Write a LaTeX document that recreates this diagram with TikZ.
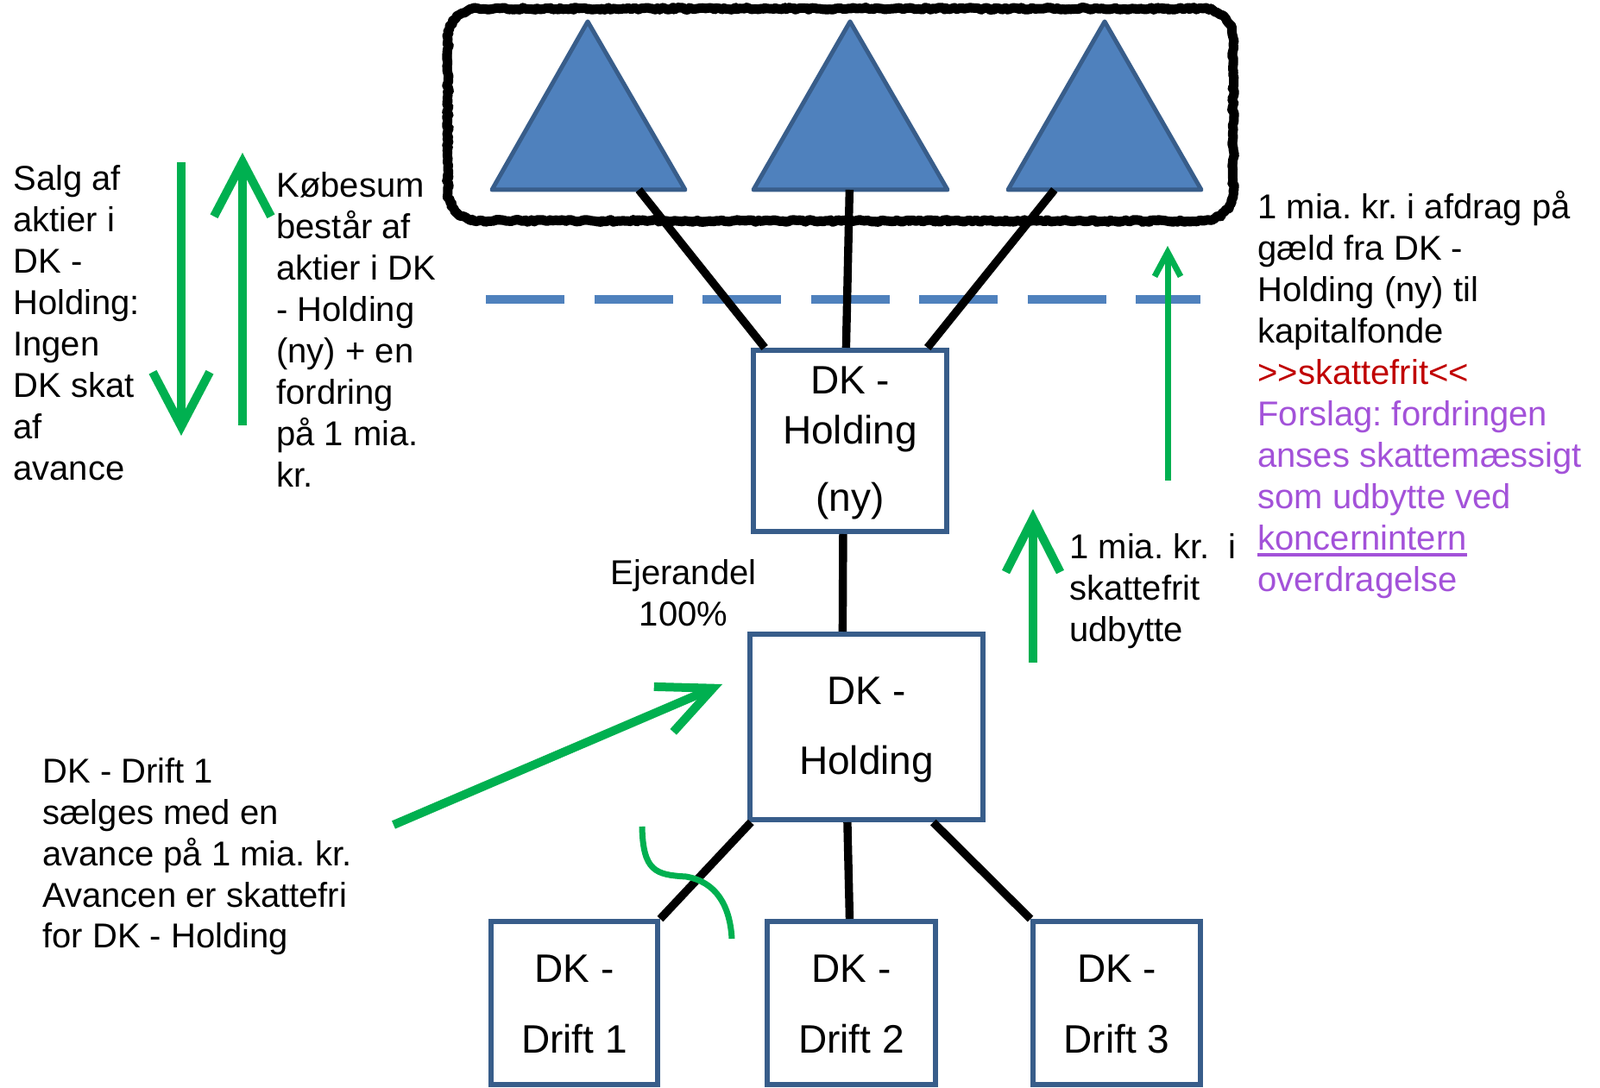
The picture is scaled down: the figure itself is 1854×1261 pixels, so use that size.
\documentclass[tikz,border=0pt]{standalone}
\usepackage{fontspec}
\setmainfont{Liberation Sans}
\usetikzlibrary{arrows.meta,decorations.pathmorphing,calc}
\definecolor{tfill}{HTML}{4F81BD}
\definecolor{tdraw}{HTML}{385D8A}
\definecolor{grn}{HTML}{00B050}
\definecolor{rd}{HTML}{C00000}
\definecolor{pur}{HTML}{A352D9}
\newcommand{\tl}[2]{\begin{tabular}[t]{@{}#1@{}}#2\end{tabular}}
\newlength{\ulw}
\newcommand{\myul}[1]{\settowidth{\ulw}{#1}\rlap{\rule[-3.5pt]{\ulw}{2pt}}#1}
\frenchspacing
\begin{document}
\begin{tikzpicture}[x=0.5pt,y=-0.5pt,
  txt/.style={font=\fontsize{20}{24}\selectfont,inner sep=0pt,anchor=base west},
  btxt/.style={font=\fontsize{23}{29}\selectfont,inner sep=0pt,anchor=base},
  box/.style={rectangle,draw=tdraw,line width=3pt,fill=white,inner sep=0pt},
  link/.style={line width=4.7pt,draw=black},
  tri/.style={fill=tfill,draw=tdraw,line width=2.5pt,line join=round},
  garrow/.style={draw=grn,line width=5pt,-{Straight Barb[length=31.5pt,width=33pt]}},
  gcurve/.style={draw=grn,line width=3.5pt},
  dashline/.style={draw=tfill,line width=5pt,dash pattern=on 45.5pt off 17.25pt}]
\useasboundingbox (0,0) rectangle (1854,1261);

% rough rounded frame
\draw[line width=4.5pt] (519,45) arc[start angle=180,end angle=270,radius=35] -- (1394,10)
  arc[start angle=270,end angle=360,radius=35] -- (1429,221)
  arc[start angle=0,end angle=90,radius=35] -- (554,256)
  arc[start angle=90,end angle=180,radius=35] -- cycle;
\draw[line width=5.5pt,line join=round,decorate,decoration={random steps,segment length=1.5pt,amplitude=0.7pt}]
  (519,45) arc[start angle=180,end angle=270,radius=35] -- (1394,10)
  arc[start angle=270,end angle=360,radius=35] -- (1429,221)
  arc[start angle=0,end angle=90,radius=35] -- (554,256)
  arc[start angle=90,end angle=180,radius=35] -- cycle;

% triangles
\coordinate (t1A) at (681,25);  \coordinate (t1L) at (570,220);  \coordinate (t1R) at (794,220);
\coordinate (t2A) at (985,25);  \coordinate (t2L) at (873,220);  \coordinate (t2R) at (1098,220);
\coordinate (t3A) at (1280,25); \coordinate (t3L) at (1168,220); \coordinate (t3R) at (1392,220);
\draw[tri] (t1A) -- (t1L) -- (t1R) -- cycle;
\draw[tri] (t2A) -- (t2L) -- (t2R) -- cycle;
\draw[tri] (t3A) -- (t3L) -- (t3R) -- cycle;

% dashed line
\coordinate (dl) at (563,347);
\coordinate (dr) at (1391,347);
\draw[dashline] (dl) -- (dr);

% boxes
\node[box,minimum width=112pt,minimum height=105pt] (hny) at (985,511) {};
\node[box,minimum width=135pt,minimum height=107.5pt] (hold) at (1004,842.5) {};
\node[box,minimum width=96.5pt,minimum height=94.5pt] (d1) at (665.5,1162.5) {};
\node[box,minimum width=97.5pt,minimum height=94.5pt] (d2) at (986.5,1162.5) {};
\node[box,minimum width=97pt,minimum height=94.5pt] (d3) at (1294,1162.5) {};

% links
\draw[link] ($(t1L)!0.76!(t1R)$) -- ($(hny.north west)!0.07!(hny.north east)$);
\draw[link] ($(t2L)!0.495!(t2R)$) -- ($(hny.north west)!0.48!(hny.north east)$);
\draw[link] ($(t3L)!0.24!(t3R)$) -- ($(hny.north west)!0.89!(hny.north east)$);
\draw[link] ($(hny.south west)!0.465!(hny.south east)$) -- ($(hold.north west)!0.4!(hold.north east)$);
\draw[link] ($(hold.south west)!0.015!(hold.south east)$) -- (d1.north east);
\draw[link] ($(hold.south west)!0.42!(hold.south east)$) -- ($(d2.north west)!0.49!(d2.north east)$);
\draw[link] ($(hold.south west)!0.78!(hold.south east)$) -- (d3.north west);

% box texts
\node[btxt] (hnyt) at (985,457) {\tl{c}{DK -\\Holding\\[10pt](ny)}};
\node[btxt] (holdt) at (1004,817) {\tl{c}{DK -\\[11.5pt]Holding}};
\node[btxt] (d1t) at (665.5,1138) {\tl{c}{DK -\\[12pt]Drift 1}};
\node[btxt] (d2t) at (986.5,1138) {\tl{c}{DK -\\[12pt]Drift 2}};
\node[btxt] (d3t) at (1294,1138) {\tl{c}{DK -\\[12pt]Drift 3}};

% green arrows
\coordinate (a1s) at (210,188); \coordinate (a1e) at (210,505);
\coordinate (a2s) at (281,493); \coordinate (a2e) at (281,177);
\coordinate (a3s) at (1353,557); \coordinate (a3e) at (1353,285);
\coordinate (a4s) at (1197,768); \coordinate (a4e) at (1197,590);
\coordinate (a5s) at (456,956); \coordinate (a5e) at (837,793);
\draw[garrow] (a1s) -- (a1e);
\draw[garrow] (a2s) -- (a2e);
\draw[draw=grn,line width=3.5pt,-{Straight Barb[length=14pt,width=15pt]}] (a3s) -- (a3e);
\draw[garrow,-{Straight Barb[length=31pt,width=31.5pt]}] (a4s) -- (a4e);
\draw[garrow,-{Straight Barb[length=31pt,width=28.5pt]}] (a5s) -- (a5e);

% green curve
\coordinate (c1) at (744,958); \coordinate (c2) at (795,1016); \coordinate (c3) at (848,1088);
\draw[gcurve] (c1) .. controls (745,1010) and (760,1014) .. (c2) .. controls (830,1022) and (846,1050) .. (c3);

% texts
\node[txt] (salg) at (15,221) {\tl{l}{Salg af\\aktier i\\DK -\\Holding:\\Ingen\\DK skat\\af\\avance}};
\node[txt] (kob) at (320,229) {\tl{l}{Købesum\\består af\\aktier i DK\\- Holding\\(ny) + en\\fordring\\på 1 mia.\\kr.}};
\node[txt] (right) at (1457,254) {\tl{l}{1 mia. kr. i afdrag på\\gæld fra DK -\\Holding (ny) til\\kapitalfonde\\
  \textcolor{rd}{>\kern0pt>skattefrit<\kern0pt<}\\
  \textcolor{pur}{Forslag: fordringen}\\
  \textcolor{pur}{anses skattemæssigt}\\
  \textcolor{pur}{som udbytte ved}\\
  \textcolor{pur}{\myul{koncernintern}}\\
  \textcolor{pur}{overdragelse}}};
\node[txt] (udb) at (1239,648) {\tl{l}{1 mia. kr.\ \ i\\skattefrit\\udbytte}};
\node[txt,anchor=base] (ejer) at (792,678) {\tl{c}{Ejerandel\\100\%}};
\node[txt] (drift) at (49,907) {\tl{l}{DK - Drift 1\\sælges med en\\avance på 1 mia. kr.\\Avancen er skattefri\\for DK - Holding}};
\end{tikzpicture}
\end{document}
